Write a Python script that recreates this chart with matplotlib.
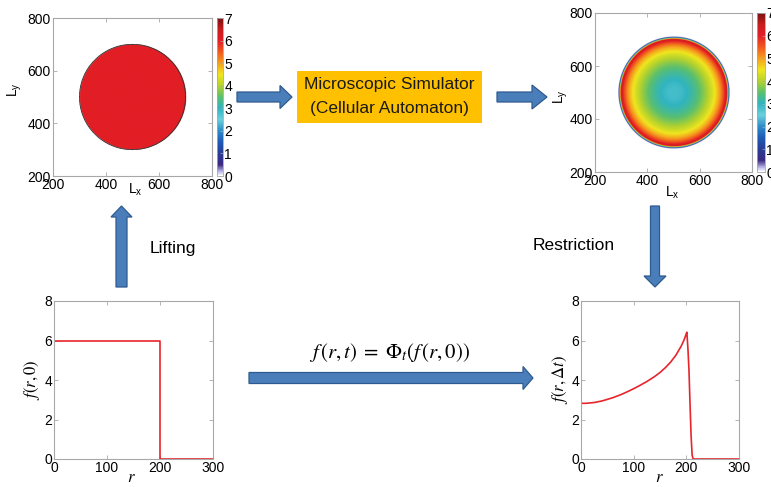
import numpy as np
import matplotlib
matplotlib.use("Agg")
import matplotlib.pyplot as plt
from matplotlib.colors import LinearSegmentedColormap
from matplotlib.patches import FancyArrow, Rectangle

plt.rcParams['font.family'] = ['Liberation Sans', 'DejaVu Sans']

# radial profiles
init_r = [0, 200, 200, 300]
init_f = [6, 6, 0, 0]
step_r = [0, 10, 25, 40, 50, 60, 75, 90, 100, 110, 125, 140, 150, 160, 170, 180, 190, 196,
          200, 201, 203, 205, 207, 209, 211, 213, 300]
step_f = [2.82, 2.82, 2.86, 2.94, 3.02, 3.1, 3.25, 3.43, 3.56, 3.7, 3.92, 4.18, 4.38, 4.62, 4.9,
          5.25, 5.7, 6.05, 6.35, 6.42, 5.6, 4.5, 2.8, 1.2, 0.2, 0, 0]

map_ticks = [200, 400, 600, 800]
cbar_ticks = [0, 1, 2, 3, 4, 5, 6, 7]
r_ticks = [0, 100, 200, 300]
f_ticks = [0, 2, 4, 6, 8]

# colour bar stops (value, colour) as seen on the reference colour bars
cbar_stops = [(0, '#ffffff'), (0.15, '#c8c8f0'), (0.5, '#3c2882'), (1, '#283c96'),
              (1.5, '#1e5ab4'), (2, '#2d8cc8'), (2.5, '#6cd0dc'), (3, '#30b4c0'),
              (3.5, '#5abf6e'), (4, '#b4d22d'), (4.5, '#f0e61e'), (5, '#f5a01e'),
              (5.5, '#f05a1e'), (6, '#e31e26'), (6.5, '#c81e1e'), (7, '#7a1010')]

W, H = 771, 487


def box(x0, y0, x1, y1):
    return [x0 / W, 1 - y1 / H, (x1 - x0) / W, (y1 - y0) / H]


cmap = LinearSegmentedColormap.from_list('cb', [(v / 7, c) for v, c in cbar_stops])

fig = plt.figure(figsize=(W / 100, H / 100), dpi=100)
fig.patch.set_facecolor('white')

# overlay in pixel coordinates for arrows and text
ov = fig.add_axes([0, 0, 1, 1])
ov.set_xlim(0, W)
ov.set_ylim(H, 0)
ov.axis('off')

blue, edge = '#4a7ebb', '#2f5a8f'
arrows = [
    (237, 97, 55, 0, 10, 23, 12),
    (497, 97, 50, 0, 10, 24, 15),
    (121.5, 287, 0, -81, 11, 21, 11),
    (655, 206, 0, 81, 9, 22, 11),
    (249, 378, 284, 0, 11, 23, 10),
]
for x, y, dx, dy, w, hw, hl in arrows:
    ov.add_patch(FancyArrow(x, y, dx, dy, width=w, head_width=hw, head_length=hl,
                            length_includes_head=True, fc=blue, ec=edge, lw=0.9))

ov.add_patch(Rectangle((297, 71), 185, 52, fc='#ffc000', ec='none'))
ov.text(389.5, 85, 'Microscopic Simulator', ha='center', va='center', fontsize=12.5, color='#1a1a1a')
ov.text(389.5, 108, '(Cellular Automaton)', ha='center', va='center', fontsize=12.5, color='#1a1a1a')
ov.text(150, 248, 'Lifting', ha='left', va='center', fontsize=12.5)
ov.text(533, 245, 'Restriction', ha='left', va='center', fontsize=12.5)
ov.text(390, 352, r'$f\,(r,t)\; = \;\Phi_t(f\,(r,0))$', ha='center', va='center',
        fontsize=15, math_fontfamily='stix')

# axis labels
ov.text(15, 90, r'$\mathregular{L_y}$', rotation=90, ha='center', va='center', fontsize=10)
ov.text(135, 190, r'$\mathregular{L_x}$', ha='center', va='center', fontsize=10)
ov.text(561, 97, r'$\mathregular{L_y}$', rotation=90, ha='center', va='center', fontsize=10)
ov.text(672, 193, r'$\mathregular{L_x}$', ha='center', va='center', fontsize=10)
ov.text(32, 380, r'$f(r,0)$', rotation=90, ha='center', va='center', fontsize=12, math_fontfamily='stix')
ov.text(131, 477, r'$r$', ha='center', va='center', fontsize=12, math_fontfamily='stix')
ov.text(560, 380, r'$f(r,\Delta t)$', rotation=90, ha='center', va='center', fontsize=12, math_fontfamily='stix')
ov.text(659, 477, r'$r$', ha='center', va='center', fontsize=12, math_fontfamily='stix')


def style(ax):
    for s in ax.spines.values():
        s.set_color('#a8a8a8')
        s.set_linewidth(0.8)
    ax.tick_params(direction='in', length=3, width=0.6, color='#a8a8a8',
                   labelsize=10, pad=1.5, top=True, right=True)


grid = np.arange(200, 801)
gx, gy = np.meshgrid(grid, grid)
rad = np.hypot(gx - 500, gy - 500)

maps = [
    (box(53, 18, 212, 176), box(217, 18, 223, 176), np.where(rad <= 200, 6.0, 0.0), True),
    (box(595, 13, 752, 172), box(757, 13, 765, 172), np.interp(rad, step_r, step_f), False),
]
for pos, cpos, vals, outline in maps:
    ax = fig.add_axes(pos)
    im = ax.imshow(vals, origin='lower', extent=[200, 800, 200, 800], aspect='auto',
                   cmap=cmap, vmin=0, vmax=7, interpolation='antialiased')
    if outline:
        ax.contour(gx, gy, vals, levels=[3], colors='#333333', linewidths=0.6)
    ax.set_xticks(map_ticks)
    ax.set_yticks(map_ticks)
    ax.set_xlim(200, 800)
    ax.set_ylim(200, 800)
    style(ax)
    cax = fig.add_axes(cpos)
    cb = fig.colorbar(im, cax=cax, ticks=cbar_ticks)
    cb.outline.set_edgecolor('#a8a8a8')
    cb.outline.set_linewidth(0.6)
    cax.tick_params(direction='in', length=2, width=0.5, color='#a8a8a8', labelsize=10, pad=1)

lines = [
    (box(54, 301, 213, 459), init_r, init_f),
    (box(581, 301, 739, 459), step_r, step_f),
]
for pos, rr, ff in lines:
    ax = fig.add_axes(pos)
    ax.plot(rr, ff, color='#e8242c', lw=1.2)
    ax.set_xlim(0, 300)
    ax.set_ylim(0, 8)
    ax.set_xticks(r_ticks)
    ax.set_yticks(f_ticks)
    style(ax)

fig.savefig('out.png', dpi=100)
